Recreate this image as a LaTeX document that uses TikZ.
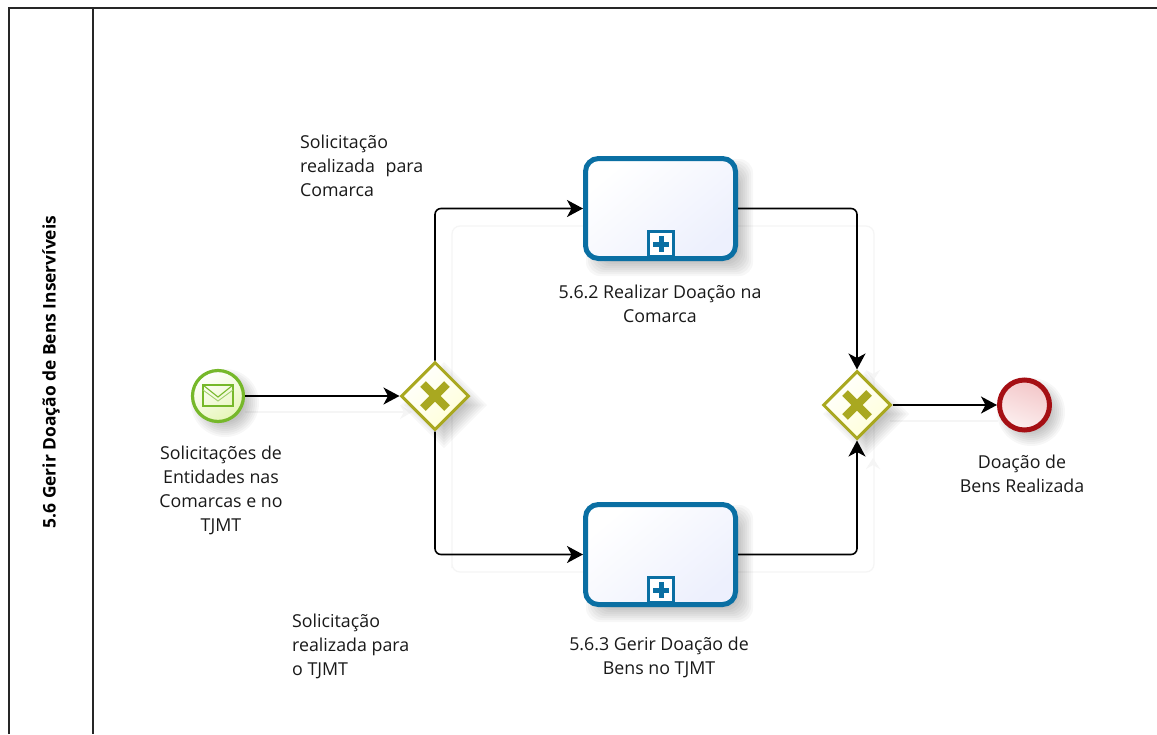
\documentclass[tikz,border=0pt]{standalone}
\usepackage{fontspec}
\setmainfont{Open Sans}
\usetikzlibrary{shapes.geometric,arrows.meta}
\definecolor{taskblue}{HTML}{0A6FA3}
\definecolor{gateolive}{HTML}{A9A820}
\definecolor{startgreen}{HTML}{76B82A}
\definecolor{endred}{HTML}{A50F14}
\definecolor{ghost}{HTML}{F5F5F5}
\definecolor{taskend}{HTML}{EDF0FD}
\definecolor{gateend}{HTML}{FFFFD8}
\definecolor{startend}{HTML}{E6F6B8}
\definecolor{endstart}{HTML}{F3C6C8}
\definecolor{endfin}{HTML}{FCF0F0}
\tikzset{
  lane/.style={draw=black!85,line width=2pt},
  flow/.style={draw=black,line width=1.6pt,rounded corners=6pt,-{Stealth[length=16pt,width=17pt,inset=4.5pt]}},
  ghostline/.style={draw=ghost,line width=1.2pt,rounded corners=8pt},
  ghosthead/.style={fill=ghost,draw=none},
  lbl/.style={font=\fontsize{17.8}{24}\selectfont,inner sep=0pt,text=black!90},
  task/.style={rounded corners=13pt,draw=taskblue,line width=5pt,minimum width=150pt,minimum height=100pt,inner sep=0pt,top color=white,bottom color=taskend,shading angle=40},
  gate/.style={diamond,aspect=1,draw=gateolive,line width=3pt,minimum width=68pt,minimum height=68pt,inner sep=0pt,top color=white,bottom color=gateend,shading angle=40},
  xmark/.style={draw=gateolive,line width=8pt},
  startev/.style={circle,draw=startgreen,line width=3.2pt,minimum size=51pt,inner sep=0pt,top color=white,bottom color=startend,shading angle=30},
  endev/.style={circle,draw=endred,line width=5pt,minimum size=50pt,inner sep=0pt,top color=endstart,bottom color=endfin,shading angle=-20},
  marker/.style={draw=taskblue,line width=3pt,fill=white,minimum size=25pt,inner sep=0pt},
  sh/.style={fill=black,opacity=0.03,draw=none},
}
\newcommand{\rectshadow}[4]{%
  \foreach \d in {0,2,4,6,8,10,12,14}{
    \fill[sh,rounded corners=14pt] (#1+2+\d,#2+2+\d) rectangle (#3+16-\d,#4+16-\d);
  }}
\newcommand{\circshadow}[3]{%
  \foreach \d in {0,2,4,6,8,10,12,14}{
    \fill[sh] (#1+7,#2+7) circle ({#3+8-\d});
  }}
\newcommand{\diashadow}[3]{%
  \foreach \d in {0,3,6,9,12,15,18,21}{
    \fill[sh] (#1+9,#2+9-#3-8+\d) -- (#1+9+#3+8-\d,#2+9) -- (#1+9,#2+9+#3+8-\d) -- (#1+9-#3-8+\d,#2+9) -- cycle;
  }}
\begin{document}
\begin{tikzpicture}[x=1pt,y=-1pt]
\useasboundingbox (0,0) rectangle (1157,734);
\fill[white] (0,0) rectangle (1157,734);
% faint connector shadows
\draw[ghostline] (452,560) -- (452,226) -- (874,226) -- (874,572) -- (452,572) -- cycle;
\draw[ghostline] (245,412) -- (405,412);
\draw[ghostline] (890,421) -- (998,421);
\fill[ghosthead] (412,412) -- (400,405) -- (404,412) -- (400,419) -- cycle;
\fill[ghosthead] (873,381) -- (866,370) -- (873,374) -- (880,370) -- cycle;
\fill[ghosthead] (873,458) -- (866,469) -- (873,465) -- (880,469) -- cycle;
% lane
\draw[lane] (9,734) -- (9,7.5) -- (1157,7.5);
\coordinate (lanetop) at (93,7.5);
\coordinate (lanebot) at (93,734);
\draw[lane] (lanetop) -- (lanebot);
\node[rotate=90,font=\bfseries\fontsize{17.4}{18}\selectfont,inner sep=0pt] (title) at (51,372) {5.6 Gerir Doação de Bens Inservíveis};
% shadows
\rectshadow{584}{157}{737}{260}
\rectshadow{584}{503}{737}{606}
\circshadow{218}{396}{26}
\circshadow{1024}{405}{26}
\diashadow{435}{396}{35}
\diashadow{857}{405}{35}
% tasks
\node[task] (t1) at (660.5,208.5) {};
\node[task] (t2) at (660.5,554.5) {};
\node[marker] (m1) at (661,244) {};
\node[marker] (m2) at (661,590) {};
\draw[taskblue,line width=5pt] (653,244) -- (669,244) (661,236) -- (661,252);
\draw[taskblue,line width=5pt] (653,590) -- (669,590) (661,582) -- (661,598);
% gateways
\node[gate] (g1) at (435,396) {};
\draw[xmark] (423,384) -- (447,408) (447,384) -- (423,408);
\node[gate] (g2) at (857,405) {};
\draw[xmark] (845,393) -- (869,417) (869,393) -- (845,417);
% events
\node[startev] (s) at (218,396) {};
\draw[startgreen,line width=1.2pt] (203,385) rectangle (233,406);
\draw[startgreen,line width=1.1pt] (203,385) -- (218,397) -- (233,385);
\draw[startgreen!70,line width=0.9pt] (203,390) -- (218,401) -- (233,390);
\node[endev] (e) at (1024.5,405) {};
% connectors
\draw[flow] (s.east) -- (g1.west);
\draw[flow] (g1.north) |- (t1.west);
\draw[flow] (g1.south) |- (t2.west);
\draw[flow] (t1.east) -| (g2.north);
\draw[flow] (t2.east) -| (g2.south);
\draw[flow] (g2.east) -- (e.west);
% labels
\node[lbl,align=left,anchor=north west] (l1) at (300,135) {Solicitação\\realizada\hspace{6pt} para\\Comarca};
\node[lbl,align=left,anchor=north west] (l2) at (292,614) {Solicitação\\realizada para\\o TJMT};
\node[lbl,align=center,anchor=north] (l3) at (660,285) {5.6.2 Realizar Doação na\\Comarca};
\node[lbl,align=center,anchor=north] (l4) at (659,637) {5.6.3 Gerir Doação de\\Bens no TJMT};
\node[lbl,align=center,anchor=north] (l5) at (221,446) {Solicitações de\\Entidades nas\\Comarcas e no\\TJMT};
\node[lbl,align=center,anchor=north] (l6) at (1022,455) {Doação de\\Bens Realizada};
\end{tikzpicture}
\end{document}
